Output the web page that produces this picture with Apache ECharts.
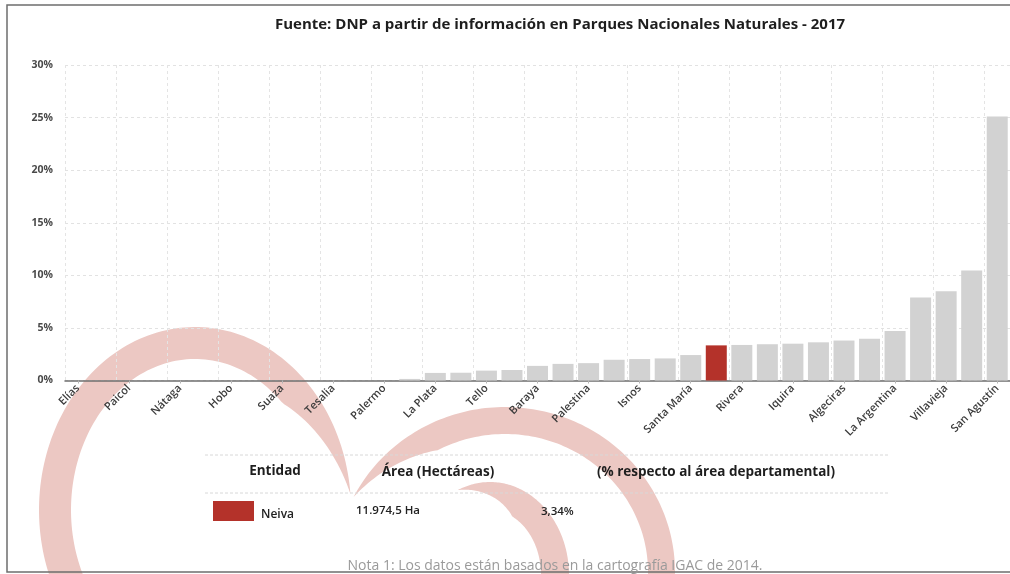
<!DOCTYPE html>
<html>
<head>
<meta charset="utf-8">
<script src="https://cdn.jsdelivr.net/npm/echarts@6/dist/echarts.min.js"></script>
<style>
  html, body { margin: 0; padding: 0; background: #ffffff; }
  #chart { width: 1010px; height: 574px; }
</style>
</head>
<body>
<div id="chart"></div>
<script>
// Municipios del Huila, ordenados por % de área en parques nacionales
const municipios = [
  'Elías', 'Tarqui', 'Paicol', 'Yaguará', 'Nátaga', 'Oporapa', 'Hobo', 'Altamira',
  'Suaza', 'Agrado', 'Tesalia', 'Timaná', 'Palermo', 'Pital', 'La Plata', 'Campoalegre',
  'Tello', 'Teruel', 'Baraya', 'Gigante', 'Palestina', 'Saladoblanco', 'Isnos', 'Colombia',
  'Santa María', 'Neiva', 'Rivera', 'Aipe', 'Iquira', 'Guadalupe', 'Algeciras', 'Garzón',
  'La Argentina', 'Pitalito', 'Villavieja', 'Acevedo', 'San Agustín'
];
// % respecto al área departamental
const porcentaje = [
  0, 0, 0, 0, 0, 0, 0, 0,
  0, 0, 0, 0, 0, 0.15, 0.72, 0.74,
  0.94, 1.0, 1.39, 1.58, 1.65, 1.97, 2.04, 2.1,
  2.42, 3.34, 3.38, 3.45, 3.5, 3.63, 3.8, 3.96,
  4.7, 7.9, 8.48, 10.46, 25.1
];
const yTicks = [0, 5, 10, 15, 20, 25, 30];

// Entidad destacada y su fila en la tabla
const entidad = 'Neiva';
const areaEntidad = '11.974,5 Ha';
const pctEntidad = porcentaje[municipios.indexOf(entidad)];

const GRIS = '#d2d2d2';
const ROJO = '#b4322a';
const FONT = '"Open Sans", Lato, sans-serif';

// Banda curva (media luna) del logotipo de fondo
function banda(cx, cy, rx, ry, a0, a1, w, taper, puntaAlInicio) {
  const ext = [], int = [];
  const n = 120;
  for (let i = 0; i <= n; i++) {
    const a = a0 + (a1 - a0) * i / n;
    const dist = puntaAlInicio ? (a - a0) : (a1 - a);
    const f = Math.min(1, dist / taper);
    const ww = w * f;
    const rad = a * Math.PI / 180;
    ext.push([cx + rx * Math.cos(rad), cy + ry * Math.sin(rad)]);
    int.push([cx + (rx - ww) * Math.cos(rad), cy + (ry - ww) * Math.sin(rad)]);
  }
  return ext.concat(int.reverse());
}

const ROSA = '#ecc8c3';
const fondo = [
  { type: 'polygon', z: -10, shape: { points: banda(195, 510, 156, 183, 150, 355, 32, 40, false) }, style: { fill: ROSA } },
  { type: 'polygon', z: -10, shape: { points: banda(505, 572, 170, 165, 207, 368, 27, 35, true) }, style: { fill: ROSA } },
  { type: 'polygon', z: -10, shape: { points: banda(490, 575, 79, 93, 246, 372, 28, 50, true) }, style: { fill: ROSA } }
];

const tabla = [
  { type: 'rect', z: -5, shape: { x: 7, y: 5, width: 1010, height: 567 }, style: { fill: 'none', stroke: '#6e6e6e', lineWidth: 1.5 } },
  { type: 'line', shape: { x1: 205, y1: 455, x2: 890, y2: 455 }, style: { stroke: '#d8d8d8', lineWidth: 1, lineDash: [3, 2] } },
  { type: 'line', shape: { x1: 205, y1: 493, x2: 890, y2: 493 }, style: { stroke: '#d8d8d8', lineWidth: 1, lineDash: [3, 2] } },
  { type: 'text', x: 275, y: 471, style: { text: 'Entidad', font: 'bold 13.5px ' + FONT, fill: '#1e1e1e', textAlign: 'center', textVerticalAlign: 'middle' } },
  { type: 'text', x: 438, y: 472, style: { text: 'Área (Hectáreas)', font: 'bold 13.5px ' + FONT, fill: '#1e1e1e', textAlign: 'center', textVerticalAlign: 'middle' } },
  { type: 'text', x: 716, y: 472, style: { text: '(% respecto al área departamental)', font: 'bold 13.5px ' + FONT, fill: '#1e1e1e', textAlign: 'center', textVerticalAlign: 'middle' } },
  { type: 'rect', shape: { x: 213, y: 501, width: 41, height: 20 }, style: { fill: ROJO } },
  { type: 'text', x: 261, y: 515, style: { text: entidad, font: '600 12px ' + FONT, fill: '#222', textAlign: 'left', textVerticalAlign: 'middle' } },
  { type: 'text', x: 356, y: 511, style: { text: areaEntidad, font: '600 11.5px ' + FONT, fill: '#222', textAlign: 'left', textVerticalAlign: 'middle' } },
  { type: 'text', x: 541, y: 512, style: { text: pctEntidad.toFixed(2).replace('.', ',') + '%', font: '600 11.5px ' + FONT, fill: '#222', textAlign: 'left', textVerticalAlign: 'middle' } },
  { type: 'text', x: 555, y: 566, style: { text: 'Nota 1: Los datos están basados en la cartografía IGAC de 2014.', font: '14px ' + FONT, fill: '#9a9a9a', textAlign: 'center', textVerticalAlign: 'middle' } }
];

const chart = echarts.init(document.getElementById('chart'), null, { renderer: 'canvas' });

chart.setOption({
  backgroundColor: '#ffffff',
  animation: false,
  title: {
    text: 'Fuente: DNP a partir de información en Parques Nacionales Naturales - 2017',
    left: 555,
    textAlign: 'center',
    top: 12,
    textStyle: { fontFamily: FONT, fontSize: 15, fontWeight: 'bold', color: '#1e1e1e' }
  },
  grid: { left: 65, top: 65, width: 947, height: 315.5 },
  xAxis: {
    type: 'category',
    data: municipios,
    axisLine: { lineStyle: { color: '#6f6f6f', width: 1.5 } },
    axisTick: { show: true, interval: 1, alignWithLabel: true, length: 3, lineStyle: { color: '#b5b5b5' } },
    axisLabel: {
      interval: 1,
      rotate: 45,
      margin: 6,
      fontFamily: FONT,
      fontSize: 11,
      fontWeight: 600,
      color: '#3c3c3c'
    },
    splitLine: { show: true, interval: 1, lineStyle: { color: '#e4e4e4', type: [3, 3] } }
  },
  yAxis: {
    type: 'value',
    min: yTicks[0],
    max: yTicks[yTicks.length - 1],
    interval: yTicks[1] - yTicks[0],
    axisLine: { show: false },
    axisTick: { show: false },
    axisLabel: {
      formatter: '{value}%',
      margin: 12,
      fontFamily: FONT,
      fontSize: 10.5,
      fontWeight: 'bold',
      color: '#4a4a4a'
    },
    splitLine: { show: true, lineStyle: { color: '#e2e2e2', type: [3, 3] } }
  },
  series: [{
    type: 'bar',
    barWidth: 21,
    data: porcentaje.map((v, i) => ({
      value: v,
      itemStyle: { color: municipios[i] === entidad ? ROJO : GRIS }
    }))
  }],
  graphic: { elements: fondo.concat(tabla) }
});
</script>
</body>
</html>
